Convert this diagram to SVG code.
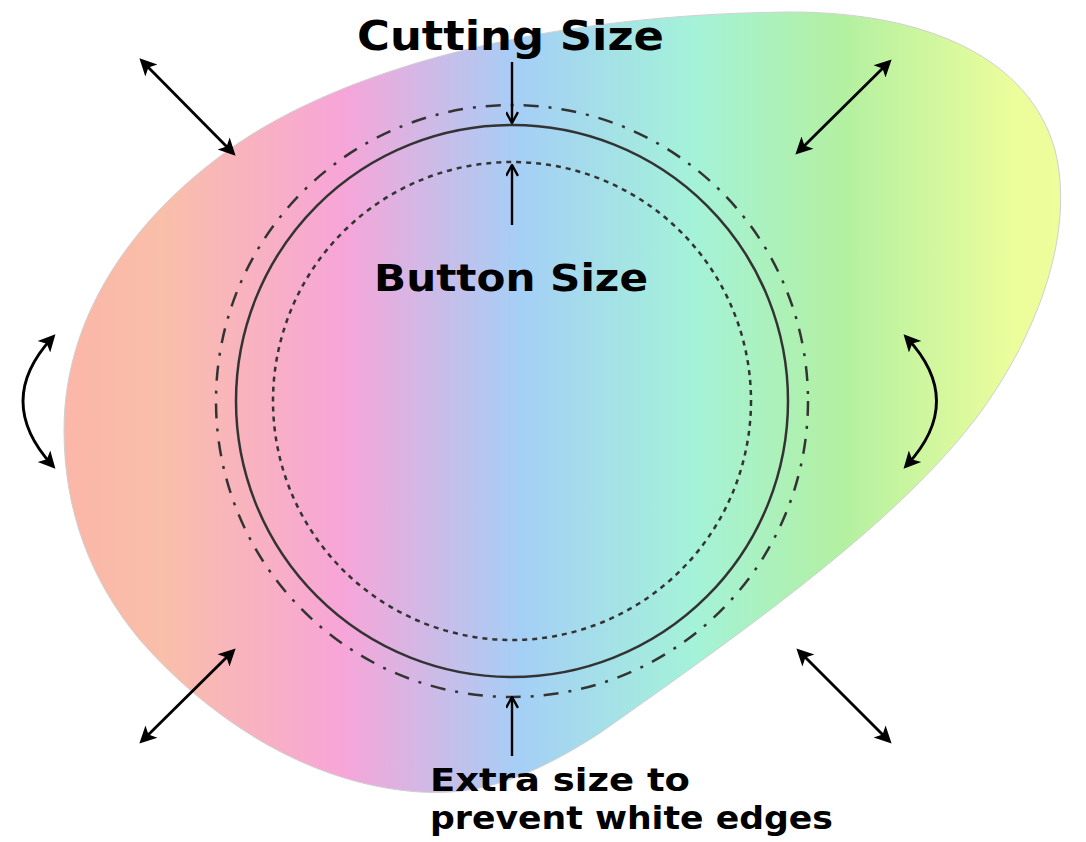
<svg xmlns="http://www.w3.org/2000/svg" width="1086" height="842" viewBox="0 0 1086 842">
<style>
.lbl{font-family:"DejaVu Sans","Liberation Sans",sans-serif;fill:#000;}
.ring{fill:none;stroke:#333;stroke-width:2.5;}
.arr{fill:none;stroke:#000;stroke-width:2.8;}
.ptr{fill:none;stroke:#000;stroke-width:2.4;}
</style>
<defs>
<linearGradient id="bg" gradientUnits="userSpaceOnUse" x1="63" y1="0" x2="1063" y2="0">
<stop offset="0" stop-color="#fbb6a8"/>
<stop offset="0.1" stop-color="#f9bfa9"/>
<stop offset="0.28" stop-color="#f7a5d8"/>
<stop offset="0.457" stop-color="#a5cff6"/>
<stop offset="0.63" stop-color="#a4f2d9"/>
<stop offset="0.78" stop-color="#b3f0a1"/>
<stop offset="0.95" stop-color="#ecfd9c"/>
<stop offset="1" stop-color="#effd9c"/>
</linearGradient>
<marker id="head" viewBox="0 0 10 10" refX="7" refY="5" markerWidth="20" markerHeight="17" markerUnits="userSpaceOnUse" orient="auto-start-reverse">
<path d="M0,0 L10,5 L0,10 L2.5,5 Z" fill="#000"/>
</marker>
<marker id="open" viewBox="0 0 12 12" refX="11" refY="6" markerWidth="13" markerHeight="13" markerUnits="userSpaceOnUse" orient="auto">
<path d="M1,0.5 L11,6 L1,11.5" fill="none" stroke="#000" stroke-width="2.2"/>
</marker>
</defs>
<g id="blob">
<path d="M64,430 C64,310 140,210 240,142 C360,62 560,14 790,12 C930,12 1030,60 1055,150 C1075,230 1040,330 980,413 C900,520 760,620 600,733 C520,785 470,795 420,792 C310,785 210,720 140,640 C90,580 64,510 64,430 Z" fill="url(#bg)" stroke="#d0d0d0" stroke-width="1"/>
</g>
<g id="rings">
<circle id="extra-ring" class="ring" cx="512" cy="401" r="296" stroke-dasharray="15 10 3 10"/>
<circle id="cut-ring" class="ring" cx="512" cy="401" r="276"/>
<circle id="button-ring" class="ring" cx="512" cy="401" r="239" stroke-dasharray="5 5"/>
</g>
<g id="connectors">
<line class="ptr" x1="512" y1="62" x2="512" y2="123" marker-end="url(#open)"/>
<line class="ptr" x1="512" y1="225" x2="512" y2="165" marker-end="url(#open)"/>
<line class="ptr" x1="512" y1="756" x2="512" y2="697" marker-end="url(#open)"/>
<line class="arr" x1="143" y1="62" x2="232" y2="152" marker-start="url(#head)" marker-end="url(#head)"/>
<line class="arr" x1="799" y1="151" x2="888" y2="63" marker-start="url(#head)" marker-end="url(#head)"/>
<line class="arr" x1="232" y1="652" x2="143" y2="740" marker-start="url(#head)" marker-end="url(#head)"/>
<line class="arr" x1="800" y1="652" x2="888" y2="740" marker-start="url(#head)" marker-end="url(#head)"/>
<path class="arr" d="M52,338 Q-6,401 52,465" marker-start="url(#head)" marker-end="url(#head)"/>
<path class="arr" d="M907,338 Q966,401 907,465" marker-start="url(#head)" marker-end="url(#head)"/>
</g>
<g id="label-cutting">
<text class="lbl" x="357" y="50" font-size="40" font-weight="bold" textLength="307" lengthAdjust="spacingAndGlyphs">Cutting Size</text>
</g>
<g id="label-button">
<text class="lbl" x="374" y="291" font-size="37" font-weight="bold" textLength="274" lengthAdjust="spacingAndGlyphs">Button Size</text>
</g>
<g id="label-extra">
<text class="lbl" x="430" y="791" font-size="32" font-weight="bold" textLength="260" lengthAdjust="spacingAndGlyphs">Extra size to</text>
<text class="lbl" x="430" y="829" font-size="32" font-weight="bold" textLength="403" lengthAdjust="spacingAndGlyphs">prevent white edges</text>
</g>
</svg>
